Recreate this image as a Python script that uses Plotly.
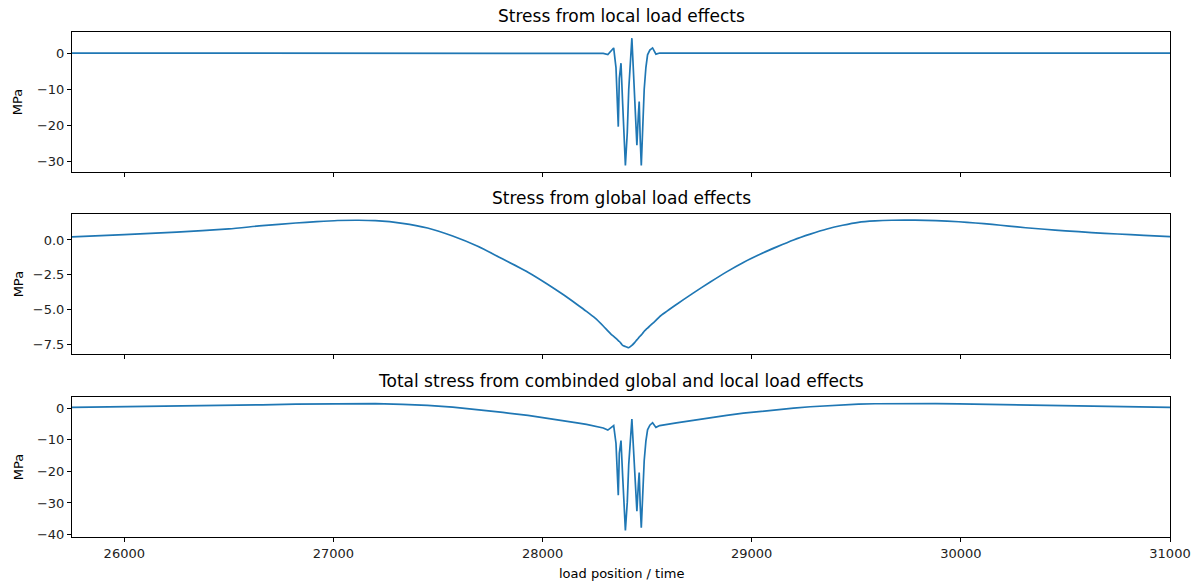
import plotly.graph_objects as go
from plotly.subplots import make_subplots

# Shared load position grid
x_pos = [25750, 26000, 26250, 26500, 26660, 26820, 26920, 27020, 27120, 27200,
         27330, 27450, 27570, 27690, 27810, 27930, 28020, 28100, 28165, 28210,
         28250, 28290, 28312, 28328, 28340, 28351, 28362, 28367, 28375, 28383,
         28396, 28405, 28412, 28427, 28440, 28451, 28458, 28462, 28467, 28472,
         28478, 28486, 28494, 28502, 28513, 28526, 28542, 28560, 28640, 28720,
         28800, 28880, 28960, 29040, 29120, 29200, 29280, 29360, 29435, 29510,
         29590, 29670, 29730, 29780, 29880, 29990, 30070, 30150, 30230, 30310,
         30400, 30500, 30625, 30750, 30875, 31000]

# Stress from local load effects (MPa)
local_stress = [0, 0, 0, 0, 0, 0, 0, 0, 0, 0,
                0, 0, 0, 0, 0, 0, 0, 0, 0, 0,
                0, -0.1, -0.4, 0.6, 1.4, -4.0, -20.3, -7.0, -2.8, -14.0,
                -31.0, -22.0, -10.0, 4.1, -10.0, -25.4, -17.0, -13.4, -24.0, -31.0,
                -22.0, -10.0, -4.0, -0.5, 0.8, 1.4, -0.3, 0, 0, 0,
                0, 0, 0, 0, 0, 0, 0, 0, 0, 0,
                0, 0, 0, 0, 0, 0, 0, 0, 0, 0,
                0, 0, 0, 0, 0, 0]

# Stress from global load effects (MPa)
global_stress = [0.22, 0.38, 0.56, 0.8, 1.03, 1.22, 1.32, 1.4, 1.42, 1.39,
                 1.2, 0.86, 0.28, -0.46, -1.38, -2.32, -3.15, -3.95, -4.65, -5.15,
                 -5.62, -6.2, -6.55, -6.8, -6.95, -7.1, -7.25, -7.32, -7.45, -7.6,
                 -7.68, -7.73, -7.77, -7.6, -7.4, -7.2, -7.08, -7.0, -6.92, -6.84,
                 -6.74, -6.58, -6.46, -6.35, -6.2, -6.02, -5.8, -5.52, -4.65, -3.83,
                 -3.05, -2.3, -1.62, -1.03, -0.5, 0.0, 0.42, 0.79, 1.06, 1.27,
                 1.37, 1.42, 1.43, 1.43, 1.39, 1.31, 1.22, 1.12, 1.0, 0.88,
                 0.77, 0.66, 0.53, 0.43, 0.33, 0.24]

# Total stress from combined global and local load effects (MPa)
total_stress = [0.22, 0.38, 0.56, 0.8, 1.03, 1.22, 1.32, 1.4, 1.42, 1.39,
                1.2, 0.86, 0.28, -0.46, -1.38, -2.32, -3.15, -3.95, -4.65, -5.15,
                -5.62, -6.3, -6.95, -6.2, -5.55, -11.1, -27.55, -14.32, -10.25, -21.6,
                -38.68, -29.73, -17.77, -3.5, -17.4, -32.6, -24.08, -20.4, -30.92, -37.84,
                -28.74, -16.58, -10.46, -6.85, -5.4, -4.62, -6.1, -5.52, -4.65, -3.83,
                -3.05, -2.3, -1.62, -1.03, -0.5, 0.0, 0.42, 0.79, 1.06, 1.27,
                1.37, 1.42, 1.43, 1.43, 1.39, 1.31, 1.22, 1.12, 1.0, 0.88,
                0.77, 0.66, 0.53, 0.43, 0.33, 0.24]

titles = ["Stress from local load effects",
          "Stress from global load effects",
          "Total stress from combinded global and local load effects"]

x_ticks = [26000, 27000, 28000, 29000, 30000, 31000]
y1_ticks = [0, -10, -20, -30]
y2_ticks = [0.0, -2.5, -5.0, -7.5]
y3_ticks = [0, -10, -20, -30, -40]

FONT = "DejaVu Sans"
LINE = "#1f77b4"

fig = make_subplots(rows=3, cols=1, shared_xaxes=True)
series = [local_stress, global_stress, total_stress]
for i, ys in enumerate(series, start=1):
    shape = "spline" if i == 2 else "linear"
    fig.add_trace(go.Scatter(x=x_pos, y=ys, mode="lines",
                             line=dict(color=LINE, width=1.7, shape=shape, smoothing=0.6),
                             showlegend=False, hoverinfo="skip"), row=i, col=1)

def fmt(v, dec):
    s = f"{abs(v):.{dec}f}"
    return ("\u2212" + s) if v < 0 else s

axis_common = dict(showline=True, linecolor="black", linewidth=1, mirror=True,
                   ticks="outside", ticklen=4, tickwidth=1, tickcolor="black",
                   showgrid=False, zeroline=False,
                   tickfont=dict(family=FONT, size=13, color="#222222"))

domains = [[0.7228, 1.0], [0.3618, 0.6396], [0.0, 0.2772]]
ranges = [[-32.8, 5.8], [-8.24, 1.87], [-40.75, 3.5]]
yt = [(y1_ticks, 0), (y2_ticks, 1), (y3_ticks, 0)]

for i in range(3):
    ticks, dec = yt[i]
    fig.update_yaxes(domain=domains[i], range=ranges[i], tickmode="array",
                     tickvals=ticks, ticktext=[fmt(v, dec) for v in ticks],
                     row=i + 1, col=1, **axis_common)
    fig.update_xaxes(range=[25750, 31000], tickmode="array", tickvals=x_ticks,
                     ticktext=[str(v) for v in x_ticks],
                     showticklabels=(i == 2), row=i + 1, col=1, **axis_common)

annotations = []
for i in range(3):
    annotations.append(dict(text=titles[i], xref="paper", yref="paper",
                            x=0.5, y=domains[i][1], yanchor="bottom", xanchor="center",
                            yshift=4, showarrow=False,
                            font=dict(family=FONT, size=17, color="black")))
    annotations.append(dict(text="MPa", xref="paper", yref="paper",
                            x=(18 - 72) / 1102, y=(domains[i][0] + domains[i][1]) / 2,
                            xanchor="center", yanchor="middle", textangle=-90,
                            showarrow=False,
                            font=dict(family=FONT, size=13, color="black")))
annotations.append(dict(text="load position / time", xref="paper", yref="paper",
                        x=0.5, y=(537 - 573) / 505, xanchor="center", yanchor="middle",
                        showarrow=False, font=dict(family=FONT, size=13, color="black")))

fig.update_layout(width=1203, height=583, plot_bgcolor="white", paper_bgcolor="white",
                  margin=dict(l=72, r=29, t=32, b=46), annotations=annotations,
                  showlegend=False)

fig.write_html("out.html")
